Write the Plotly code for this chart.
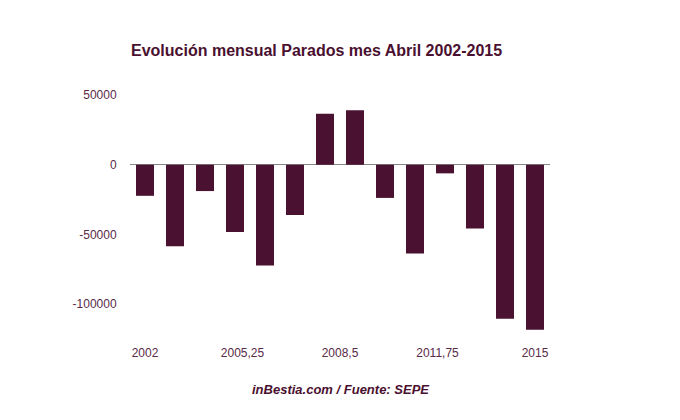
import plotly.graph_objects as go

years = [2002, 2003, 2004, 2005, 2006, 2007, 2008, 2009, 2010, 2011, 2012, 2013, 2014, 2015]
parados = [-22300, -58400, -18900, -48200, -72300, -36100, 36600, 39100,
           -23800, -63600, -6200, -45700, -110500, -118400]

x_tickvals = [2002, 2005.25, 2008.5, 2011.75, 2015]
x_ticktext = ["2002", "2005,25", "2008,5", "2011,75", "2015"]
y_tickvals = [50000, 0, -50000, -100000]
y_ticktext = ["50000", "0", "-50000", "-100000"]

title_text = "Evolución mensual Parados mes Abril 2002-2015"
source_text = "inBestia.com / Fuente: SEPE"

bar_color = "#4a1130"
text_color = "#5a2a48"

fig = go.Figure(go.Bar(x=years, y=parados, width=0.6, marker=dict(color=bar_color, line=dict(width=0))))

# page body has an 8px margin; figure coordinates are offset accordingly
fig.update_layout(
    width=680, height=420,
    margin=dict(l=122, r=138, t=87, b=89),
    paper_bgcolor="white", plot_bgcolor="white",
    font=dict(family="Liberation Sans, Arial, sans-serif", size=12, color=text_color),
    showlegend=False,
    title=dict(text="<b>" + title_text + "</b>", x=123 / 680, xanchor="left", y=1 - 42.5 / 420,
               yanchor="middle", font=dict(size=16, color="#4a1030")),
    annotations=[dict(text="<b><i>" + source_text + "</i></b>", xref="paper", yref="paper",
                      x=0.5, y=-50 / 244, xanchor="center", yanchor="middle",
                      showarrow=False, font=dict(size=13, color="#4a1030"))],
)
fig.update_xaxes(range=[2001.5, 2015.5], tickvals=x_tickvals, ticktext=x_ticktext,
                 showgrid=False, zeroline=False, showline=False,
                 ticks="outside", ticklen=3, tickcolor="white")
fig.update_yaxes(range=[-125000, 50000], tickvals=y_tickvals, ticktext=y_ticktext,
                 showgrid=False, zeroline=True, zerolinecolor="#888888", zerolinewidth=1,
                 showline=False, ticks="outside", ticklen=10, tickcolor="white")

fig.write_html("out.html")
